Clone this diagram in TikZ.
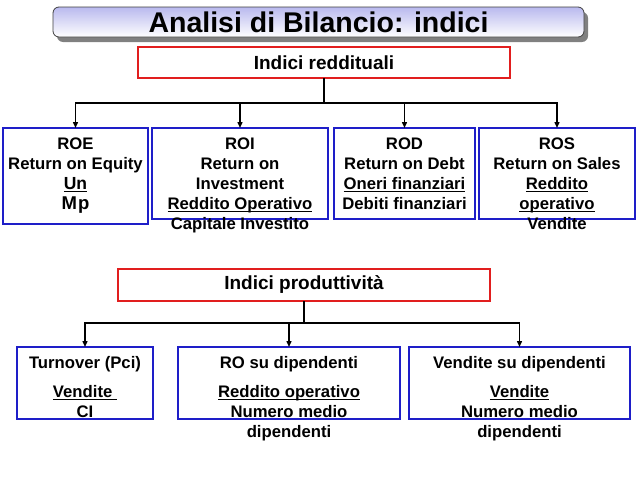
\documentclass[tikz,border=0pt]{standalone}
\usepackage{fontspec}
\setmainfont{Liberation Sans}
\usetikzlibrary{arrows.meta,shadows}
\definecolor{boxblue}{RGB}{30,30,200}
\definecolor{boxred}{RGB}{225,30,30}
\definecolor{titletop}{RGB}{185,185,238}
\newcommand\ulx[1]{\setbox0\hbox{#1}\rlap{\rule[-2.6pt]{\wd0}{1.3pt}}\box0}
\begin{document}
\begin{tikzpicture}[x=1pt,y=-1pt,
  titlebox/.style={shade, top color=titletop, bottom color=white, draw=black!75, line width=0.8pt,
    rounded corners=6pt, inner sep=0pt, outer sep=0pt,
    drop shadow={shadow xshift=4pt, shadow yshift=-5pt, fill=black!50, opacity=1},
    font=\fontsize{28.5}{30}\selectfont\bfseries},
  redbox/.style={draw=boxred, line width=1.5pt, fill=white, inner sep=0pt, outer sep=0pt,
    font=\fontsize{19}{22}\selectfont\bfseries},
  bluebox/.style={draw=boxblue, line width=1.8pt, inner sep=0pt, outer sep=0pt},
  bluebox2/.style={draw=boxblue, line width=1.5pt, inner sep=0pt, outer sep=0pt},
  txt/.style={align=center, inner sep=0pt, anchor=north, font=\fontsize{16.7}{20}\selectfont\bfseries},
  conn/.style={line width=1.4pt, black},
  arr/.style={conn, -{Triangle[length=6pt,width=5pt]}}
]
\useasboundingbox (0,0) rectangle (638,479);
\fill[white] (0,0) rectangle (638,479);

% title
\node[titlebox, minimum width=531pt, minimum height=30pt] (title) at (318.5,22) {Analisi di Bilancio: indici};

% first group
\node[redbox, minimum width=372pt, minimum height=31pt] (red1) at (324,62.5) {Indici reddituali};
\node[bluebox, minimum width=145pt, minimum height=96pt] (roe) at (75.5,176) {};
\node[bluebox, minimum width=176pt, minimum height=91pt] (roi) at (240,173.5) {};
\node[bluebox, minimum width=141pt, minimum height=91pt] (rod) at (404.5,173.5) {};
\node[bluebox, minimum width=156pt, minimum height=91pt] (ros) at (557,173.5) {};

\coordinate (j1) at (324,103);
\draw[conn] (red1.south) -- (j1);
\draw[arr] (j1) -| (roe.north);
\draw[arr] (j1) -| (roi.north);
\draw[arr] (j1) -| (rod.north);
\draw[arr] (j1) -| (ros.north);

\node[txt] (troe) at (75.5,135) {\strut ROE\\Return on Equity\\{\fontsize{17.5}{20}\selectfont\ulx{Un}}\\{\fontsize{18.5}{20}\selectfont M\kern1pt p}};
\node[txt] (troi) at (240,135) {\strut ROI\\Return on\\Investment\\\ulx{Reddito Operativo}\\Capitale Investito};
\node[txt] (trod) at (404.5,135) {\strut ROD\\Return on Debt\\\ulx{Oneri finanziari}\\Debiti finanziari};
\node[txt] (tros) at (557,135) {\strut ROS\\Return on Sales\\\ulx{Reddito}\\\ulx{operativo}\\Vendite};

% second group
\node[redbox, minimum width=372pt, minimum height=32pt] (red2) at (304,285) {Indici produttività};
\node[bluebox2, minimum width=136pt, minimum height=72pt] (turn) at (85,383) {};
\node[bluebox2, minimum width=222pt, minimum height=72pt] (rosd) at (289,383) {};
\node[bluebox2, minimum width=221pt, minimum height=72pt] (vsd) at (519.5,383) {};

\coordinate (j2) at (304,323);
\draw[conn] (red2.south) -- (j2);
\draw[arr] (j2) -| (turn.north);
\draw[arr] (j2) -| (rosd.north);
\draw[arr] (j2) -| (vsd.north);

\node[txt] (tturn) at (85,354) {\strut Turnover (Pci)\\[9pt]\ulx{Vendite\ }\\CI};
\node[txt] (trosd) at (289,354) {\strut RO su dipendenti\\[9pt]\ulx{Reddito operativo}\\Numero medio\\dipendenti};
\node[txt] (tvsd) at (519.5,354) {\strut Vendite su dipendenti\\[9pt]\ulx{Vendite}\\Numero medio\\dipendenti};
\end{tikzpicture}
\end{document}
